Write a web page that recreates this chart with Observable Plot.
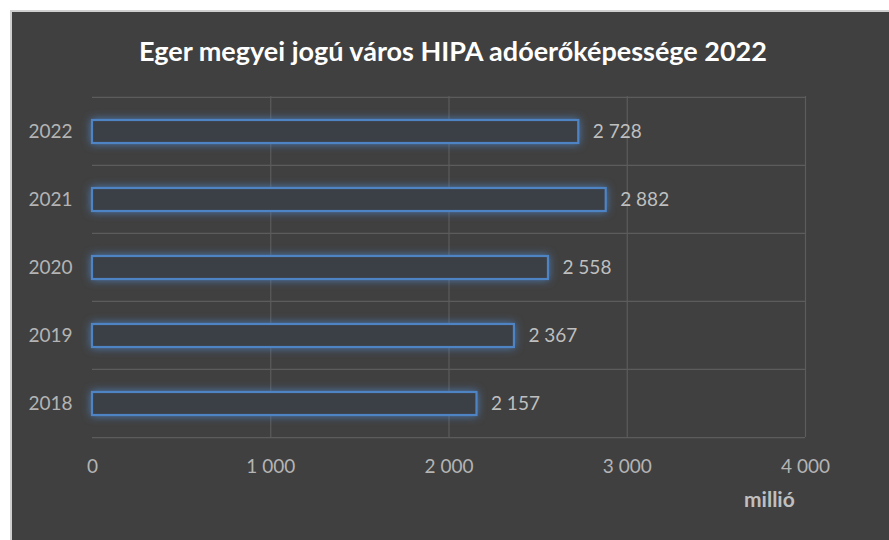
<!DOCTYPE html>
<html>
<head>
<meta charset="utf-8">
<script src="https://cdn.jsdelivr.net/npm/d3@7"></script>
<script src="https://cdn.jsdelivr.net/npm/@observablehq/plot@0.6"></script>
<style>
  html, body { margin: 0; padding: 0; background: #ffffff; }
  #page { position: relative; width: 889px; height: 540px; overflow: hidden; }
  #panel { position: absolute; left: 10px; top: 10px; width: 879px; height: 530px;
           background: #404040; border-left: 2px solid #cfcfcf; border-top: 2px solid #cfcfcf; box-sizing: border-box; }
  #title { position: absolute; left: 0; width: 906px; top: 34px; text-align: center;
           font-family: Lato, "Open Sans", sans-serif; font-weight: bold; font-size: 27px; color: #ffffff; }
  #unit { position: absolute; left: 744px; top: 486px; font-family: Lato, "Open Sans", sans-serif;
          font-weight: bold; font-size: 21px; color: #bfbfbf; }
  #chart { position: absolute; left: 0; top: 0; }
</style>
</head>
<body>
<div id="page">
  <div id="panel"></div>
  <div id="title">Eger megyei jogú város HIPA adóerőképessége 2022</div>
  <div id="chart"></div>
  <div id="unit">millió</div>
</div>
<script>
const years = ["2022", "2021", "2020", "2019", "2018"];
const values = [2728, 2882, 2558, 2367, 2157];
const xTicks = [0, 1000, 2000, 3000, 4000];
const xDomain = [0, 4000];

const data = years.map((y, i) => ({year: y, value: values[i]}));
const fmt = d => d3.format(",")(d).replace(/,/g, " ");

const W = 889, H = 540, mt = 96, mb = 103, ml = 92, mr = 84;
const bw = (H - mt - mb) / years.length;

const chart = Plot.plot({
  width: W,
  height: H,
  marginTop: mt,
  marginBottom: mb,
  marginLeft: ml,
  marginRight: mr,
  style: {background: "transparent", color: "#b4b4b4", fontFamily: "Lato, 'Open Sans', sans-serif", fontSize: "19px"},
  x: {domain: xDomain, ticks: xTicks, tickFormat: fmt, tickSize: 0, tickPadding: 22, label: null},
  y: {domain: years, padding: 0, tickSize: 0, tickPadding: 20, label: null},
  marks: [
    Plot.ruleX(xTicks.slice(1), {stroke: "#5c5c5c", strokeWidth: 1.2}),
    Plot.ruleY(years, {y: d => d, dy: -bw / 2, x1: 0, x2: 4000, stroke: "#5c5c5c", strokeWidth: 1.2}),
    Plot.ruleY([years[years.length - 1]], {y: d => d, dy: bw / 2, x1: 0, x2: 4000, stroke: "#5c5c5c", strokeWidth: 1.2}),
    Plot.barX(data, {x: "value", y: "year", fill: "#3b3f46", stroke: "#4f84c4", strokeWidth: 2.2, insetTop: 23, insetBottom: 22}),
    Plot.text(data, {x: "value", y: "year", text: d => fmt(d.value), textAnchor: "start", dx: 14, fill: "#bfbfbf", fontSize: 19})
  ]
});
chart.querySelectorAll("g[aria-label='bar']").forEach(g => {
  g.style.filter = "drop-shadow(0 0 4px rgba(79,132,196,0.85))";
});
document.getElementById("chart").appendChild(chart);
</script>
</body>
</html>
